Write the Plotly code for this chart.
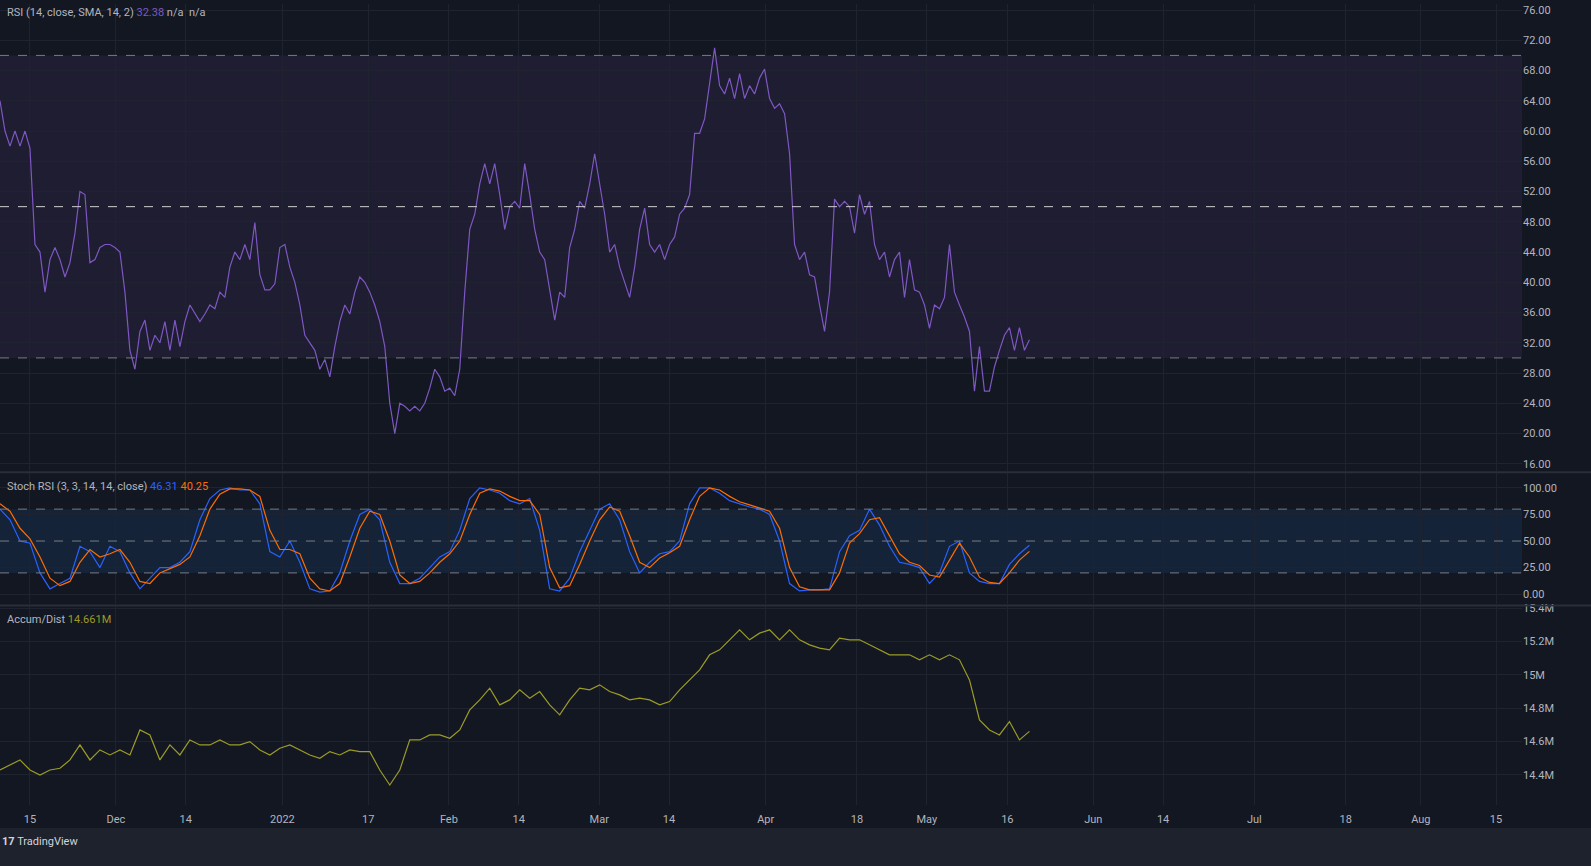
import pandas as pd
import plotly.graph_objects as go
from plotly.subplots import make_subplots

# RSI(14) readings, ~daily
rsi = [64, 60, 58, 60, 58, 60, 57.7, 45, 44, 38.7, 43, 44.6, 43, 40.7, 42.6, 46.5, 52, 51.6, 42.6, 43,
       44.6, 45, 45, 44.6, 44, 38.7, 31, 28.5, 33.5, 35, 31, 33, 32, 34.8, 31, 35, 31.5, 34.8, 37, 35.8,
       34.8, 35.8, 37, 36.5, 38.7, 38, 42, 44, 43, 45, 43, 47.9, 41, 39, 39, 39.8, 44.6, 45, 42, 40,
       37, 33, 32, 31, 28.5, 29.8, 27.5, 31.5, 34.8, 37, 35.8, 38.7, 40.7, 40, 38.7, 37, 34.8, 31.5, 24, 20,
       24, 23.6, 23, 23.6, 23, 24, 26, 28.5, 27.5, 25.6, 26, 25, 28.5, 38.7, 47, 49, 53, 55.7, 53, 55.7,
       51.6, 47, 50, 50.7, 49.8, 55.7, 51.6, 47, 44, 43, 39, 35, 38.7, 38, 44.6, 47, 50.7, 49.8, 53, 57,
       53, 49, 44, 45, 42, 40, 38, 42, 47, 49.8, 45, 44, 45, 43, 45, 46, 49, 49.8, 51.6, 59.7,
       59.7, 61.6, 66, 71, 66, 64.9, 67, 64.3, 67.6, 64.3, 66, 64.9, 67, 68.2, 64.3, 63, 63.6, 62.3, 57, 45,
       43, 44, 41, 40.7, 37, 33.5, 38.7, 51, 50, 50.7, 50, 46.5, 51.6, 49, 50.7, 45, 43, 44, 40.7, 43,
       44, 38, 43, 39, 38.7, 37, 33.9, 37, 36.5, 38, 45, 38.7, 37, 35.4, 33.5, 25.6, 31.5, 25.6, 25.6, 28.8,
       31, 33, 34, 31, 34, 31, 32.4]

# Stoch RSI %K and %D, every ~2 days
stoch_k = [80, 70, 50, 48, 20, 5, 10, 15, 45, 40, 25, 45, 40, 20, 5, 15, 25, 25, 30, 40,
           70, 90, 98, 100, 98, 98, 85, 40, 35, 50, 30, 5, 2, 3, 20, 50, 75, 80, 70, 30,
           10, 10, 15, 25, 35, 40, 60, 90, 100, 98, 95, 88, 85, 90, 60, 5, 3, 15, 40, 60,
           80, 85, 70, 40, 20, 30, 38, 40, 50, 85, 100, 100, 95, 88, 85, 82, 80, 75, 50, 10,
           3, 4, 4, 5, 40, 55, 60, 80, 65, 45, 30, 28, 25, 10, 20, 45, 50, 20, 12, 10,
           10, 28, 38, 46]
stoch_d = [85, 78, 62, 52, 35, 15, 8, 12, 30, 42, 35, 38, 42, 30, 12, 10, 20, 24, 28, 35,
           55, 80, 94, 99, 99, 98, 92, 60, 42, 42, 38, 15, 5, 3, 10, 35, 62, 78, 75, 50,
           18, 10, 12, 20, 30, 38, 50, 75, 95, 99, 97, 92, 88, 88, 75, 25, 6, 8, 28, 50,
           70, 82, 78, 55, 30, 25, 34, 39, 45, 70, 92, 100, 98, 92, 87, 84, 81, 78, 62, 25,
           7, 4, 4, 4, 20, 48, 57, 70, 72, 55, 38, 30, 27, 18, 16, 32, 48, 35, 16, 11,
           10, 20, 32, 40.25]

# Accumulation/Distribution (millions), every ~2 days
accdist = [14.43, 14.46, 14.49, 14.43, 14.40, 14.43, 14.44, 14.49, 14.58, 14.49, 14.55, 14.52, 14.55, 14.52,
           14.67, 14.64, 14.49, 14.58, 14.52, 14.61, 14.58, 14.58, 14.61, 14.58, 14.58, 14.60, 14.55, 14.52,
           14.56, 14.58, 14.55, 14.52, 14.50, 14.54, 14.52, 14.55, 14.54, 14.54, 14.43, 14.34, 14.43, 14.61,
           14.61, 14.64, 14.64, 14.62, 14.67, 14.79, 14.85, 14.92, 14.82, 14.85, 14.91, 14.86, 14.90, 14.82,
           14.76, 14.85, 14.92, 14.91, 14.94, 14.90, 14.88, 14.85, 14.86, 14.85, 14.82, 14.84, 14.91, 14.97,
           15.03, 15.12, 15.15, 15.21, 15.27, 15.21, 15.25, 15.27, 15.21, 15.27, 15.21, 15.18, 15.16, 15.15,
           15.22, 15.21, 15.21, 15.18, 15.15, 15.12, 15.12, 15.12, 15.09, 15.12, 15.09, 15.12, 15.09, 14.97,
           14.73, 14.67, 14.64, 14.72, 14.61, 14.661]

tick_dates = ["2021-11-15", "2021-12-01", "2021-12-14", "2022-01-01", "2022-01-17", "2022-02-01",
              "2022-02-14", "2022-03-01", "2022-03-14", "2022-04-01", "2022-04-18", "2022-05-01",
              "2022-05-16", "2022-06-01", "2022-06-14", "2022-07-01", "2022-07-18", "2022-08-01",
              "2022-08-15"]
tick_text = ["15", "Dec", "14", "2022", "17", "Feb", "14", "Mar", "14", "Apr", "18", "May",
             "16", "Jun", "14", "Jul", "18", "Aug", "15"]

start = pd.Timestamp("2021-11-09 10:00")
d_rsi = pd.date_range(start, periods=len(rsi), freq="22h20min")
d_st = pd.date_range(start, periods=len(stoch_k), freq="44h40min")
x_range = [start, pd.Timestamp("2022-08-19 20:00")]

BG = "#131722"
GRID = "#1f2330"
TXT = "#b2b5be"
FONT = "Roboto"

fig = make_subplots(rows=3, cols=1, shared_xaxes=True, vertical_spacing=0.003,
                    row_heights=[470, 132, 200])

fig.add_trace(go.Scatter(x=d_rsi, y=rsi, mode="lines", line=dict(color="#7e57c2", width=1.2)),
              row=1, col=1)
fig.add_trace(go.Scatter(x=d_st, y=stoch_k, mode="lines", line=dict(color="#2962ff", width=1.2)),
              row=2, col=1)
fig.add_trace(go.Scatter(x=d_st, y=stoch_d, mode="lines", line=dict(color="#ff6d00", width=1.2)),
              row=2, col=1)
fig.add_trace(go.Scatter(x=d_st, y=accdist, mode="lines", line=dict(color="#9b9b26", width=1.2)),
              row=3, col=1)

# bands and levels (added after traces so the subplots are not empty)
fig.add_hrect(y0=30, y1=70, fillcolor="rgba(126,87,194,0.10)", line_width=0, layer="below",
              row=1, col=1)
for lvl in [70, 50, 30]:
    fig.add_hline(y=lvl, line=dict(color="#d0d0d0" if lvl == 50 else "#787b86", width=1, dash="dash"),
                  row=1, col=1)
fig.add_hrect(y0=20, y1=80, fillcolor="rgba(33,150,243,0.10)", line_width=0, layer="below",
              row=2, col=1)
for lvl in [80, 50, 20]:
    fig.add_hline(y=lvl, line=dict(color="#787b86", width=1, dash="dash"), row=2, col=1)

axis_common = dict(gridcolor=GRID, zeroline=False, showline=False,
                   tickfont=dict(color=TXT, size=11, family=FONT))
for r in (1, 2, 3):
    fig.update_xaxes(range=x_range, tickvals=tick_dates, ticktext=tick_text, ticks="",
                     showticklabels=(r == 3), ticklabelstandoff=6, row=r, col=1, **axis_common)
fig.update_yaxes(side="right", range=[15.1, 76.8], tickvals=list(range(16, 77, 4)),
                 tickformat=".2f", row=1, col=1, **axis_common)
fig.update_yaxes(side="right", range=[-9.3, 114], tickvals=[0, 25, 50, 75, 100],
                 tickformat=".2f", row=2, col=1, **axis_common)
fig.update_yaxes(side="right", range=[14.22, 15.41], tickvals=[14.4, 14.6, 14.8, 15.0, 15.2, 15.4],
                 ticktext=["14.4M", "14.6M", "14.8M", "15M", "15.2M", "15.4M"],
                 row=3, col=1, **axis_common)

ann = dict(xref="paper", yref="paper", showarrow=False, xanchor="left", yanchor="middle",
           font=dict(family=FONT, size=11, color=TXT))
fig.add_annotation(x=0.003, y=0.989, text="RSI (14, close, SMA, 14, 2) <span style='color:#7e57c2'>32.38</span> n/a  n/a", **ann)
fig.add_annotation(x=0.003, y=0.398, text="Stoch RSI (3, 3, 14, 14, close) <span style='color:#2962ff'>46.31</span> <span style='color:#ff6d00'>40.25</span>", **ann)
fig.add_annotation(x=0.003, y=0.232, text="Accum/Dist <span style='color:#9b9b26'>14.661M</span>", **ann)
fig.add_annotation(x=0.0, y=-0.046, text="<b>17</b> TradingView",
                   **{**ann, "font": dict(family=FONT, size=11, color="#d1d4dc")})

fig.add_shape(type="rect", xref="paper", yref="paper", x0=-0.01, x1=1.1, y0=-0.08, y1=-0.0286,
              fillcolor="#1e222d", line_width=0, layer="below")
for yy in (0.4155, 0.249):
    fig.add_shape(type="line", xref="paper", yref="paper", x0=0, x1=1.05, y0=yy, y1=yy,
                  line=dict(color="#2a2e39", width=2))

fig.update_layout(width=1591, height=866, paper_bgcolor=BG, plot_bgcolor=BG, showlegend=False,
                  margin=dict(l=0, r=69, t=0, b=61), font=dict(family=FONT))

fig.write_html("out.html", config={"displayModeBar": False})
with open("out.html", encoding="utf-8") as f:
    html = f.read()
html = html.replace("<head>", "<head><style>html,body{margin:0;padding:0;overflow:hidden;background:#131722}</style>", 1)
with open("out.html", "w", encoding="utf-8") as f:
    f.write(html)
